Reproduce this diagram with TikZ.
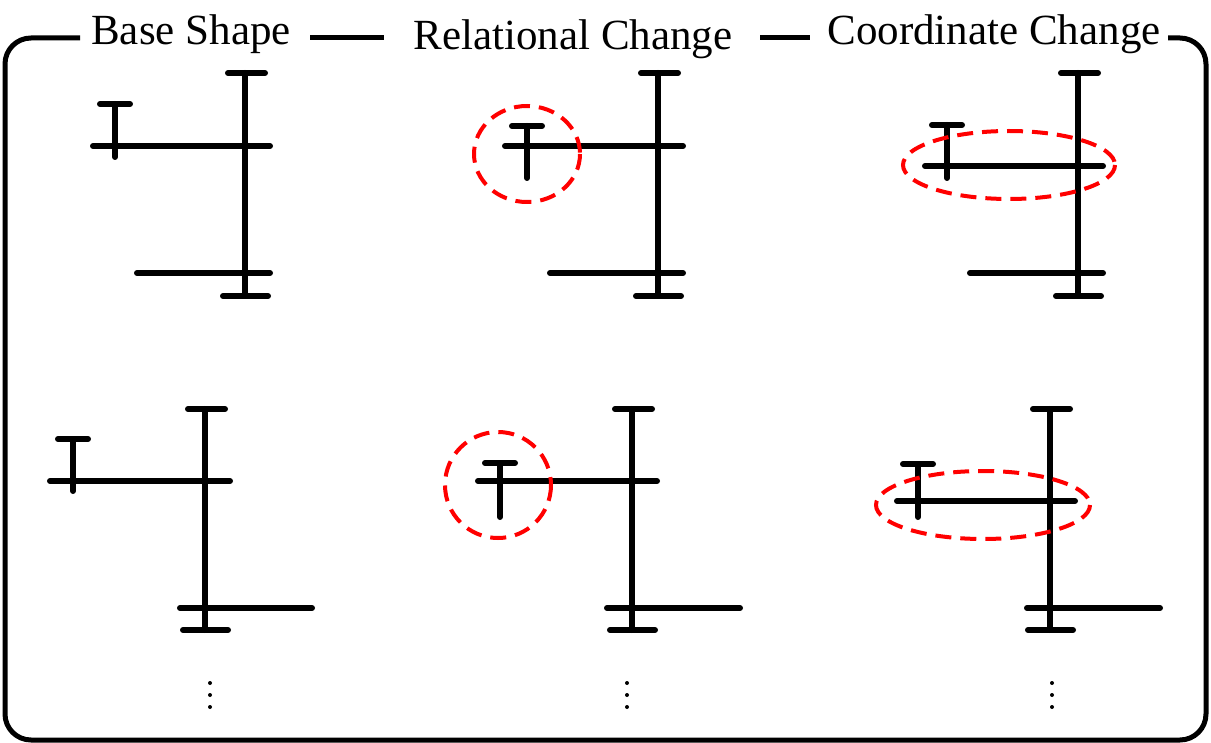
\documentclass[tikz,border=0pt]{standalone}
\usepackage{fontspec}
\setmainfont{Liberation Serif}
\begin{document}
\begin{tikzpicture}[x=1pt,y=-1pt,
  bar/.style={line width=6pt,line cap=round},
  redring/.style={draw=red,line width=4pt,dash pattern=on 16pt off 9pt},
  ttl/.style={font=\fontsize{43}{46}\selectfont,inner sep=0pt,anchor=base}]
\useasboundingbox (0,0) rectangle (1211,743);
\fill[white] (0,0) rectangle (1211,743);
\draw[line width=5pt,rounded corners=26pt]
  (80,38) -- (5,38) -- (5,740) -- (1206,740) -- (1206,38) -- (1168,38);
\draw[line width=5pt] (310,38) -- (384,38);
\draw[line width=5pt] (760,38) -- (810,38);
\node[ttl] (t1) at (191,45) {Base Shape};
\node[ttl] (t2) at (573,50) {Relational Change};
\node[ttl] (t3) at (994,45) {Coordinate Change};
\newcommand{\myshape}[9]{%
  \draw[bar] (#1,#2) -- (#1,#3);
  \draw[bar] (#1-17,#2) -- (#1+20,#2);
  \draw[bar] (#1-22,#3) -- (#1+23,#3);
  \draw[bar] (#5,#4) -- (#1+25,#4);
  \draw[bar] (#6,#7) -- (#6,#8);
  \draw[bar] (#6-15,#7) -- (#6+15,#7);
  \draw[bar] #9;
}
\myshape{245}{73}{296}{146}{93}{115}{104}{157}{(137,273) -- (270,273)}
\myshape{658}{73}{296}{146}{505}{527}{126}{178}{(550,273) -- (683,273)}
\myshape{1078}{73}{296}{166}{925}{947}{125}{178}{(970,273) -- (1103,273)}
\myshape{205}{409}{630}{481}{50}{73}{439}{491}{(180,608) -- (312,608)}
\myshape{632}{409}{630}{481}{478}{500}{463}{517}{(607,608) -- (740,608)}
\myshape{1050}{409}{630}{501}{897}{918}{464}{517}{(1027,608) -- (1160,608)}
\draw[redring] (527,154) ellipse [x radius=53,y radius=48];
\draw[redring] (1009,165) ellipse [x radius=106,y radius=34];
\draw[redring] (498,485) ellipse [x radius=53,y radius=53];
\draw[redring] (983,505) ellipse [x radius=107,y radius=34];
\foreach \x in {210,627,1052}{
  \foreach \y in {683,695,707}{\fill (\x,\y) circle (2pt);}}
\end{tikzpicture}
\end{document}
